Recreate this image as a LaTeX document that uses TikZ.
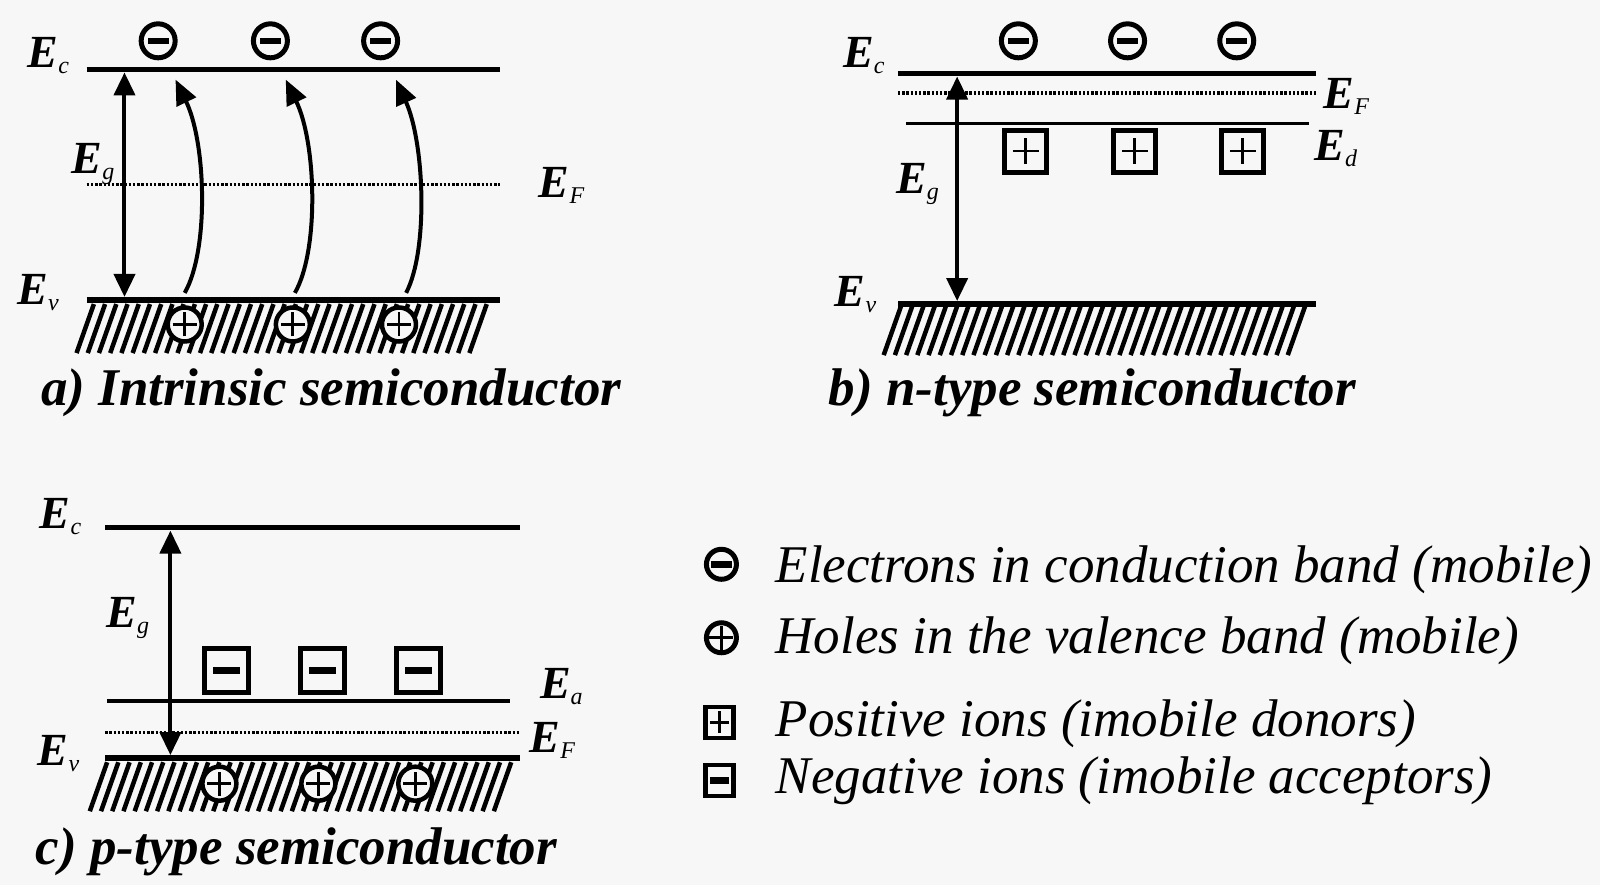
\documentclass[tikz,border=0pt]{standalone}
\usepackage{fontspec}
\setmainfont{Liberation Serif}
\usetikzlibrary{arrows.meta}
\definecolor{bg}{RGB}{247,247,247}
\newcommand{\lvlE}[1]{{\fontsize{46}{46}\selectfont\bfseries\itshape E}\raisebox{-6pt}{\fontsize{24}{24}\selectfont\itshape #1}}
\begin{document}
\begin{tikzpicture}[x=1.0204pt,y=-1.0204pt,
 band/.style={line width=5.5pt},
 thinlvl/.style={line width=3.2pt},
 fermi/.style={line width=3.4pt,dash pattern=on 2.4pt off 1.8pt},
 gaparrow/.style={line width=4pt,{Triangle[length=23pt,width=21pt]}-{Triangle[length=23pt,width=21pt]}},
 jump/.style={line width=4pt,-{Triangle[length=25pt,width=21pt]}},
 hatchline/.style={line width=4.5pt},
 lbl/.style={anchor=base west,inner sep=0pt},
 capt/.style={anchor=base west,inner sep=0pt,font=\fontsize{53}{60}\selectfont\bfseries\itshape},
 legtext/.style={anchor=base west,inner sep=0pt,font=\fontsize{53}{60}\selectfont\itshape},
 elec/.style={circle,draw,line width=5pt,minimum size=34pt,inner sep=0pt,fill=bg,
   path picture={\fill[black] ([xshift=-10.5pt,yshift=-3.3pt]path picture bounding box.center) rectangle ([xshift=10.5pt,yshift=3.3pt]path picture bounding box.center);}},
 hole/.style={circle,draw,line width=4.5pt,minimum size=34pt,inner sep=0pt,fill=bg,
   path picture={\draw[black,line width=2.8pt] ([xshift=-12pt]path picture bounding box.center) -- ([xshift=12pt]path picture bounding box.center);
                 \draw[black,line width=2.8pt] ([yshift=-12pt]path picture bounding box.center) -- ([yshift=12pt]path picture bounding box.center);}},
 donor/.style={rectangle,draw,line width=5pt,minimum size=42pt,inner sep=0pt,fill=bg,
   path picture={\draw[black,line width=2.8pt] ([xshift=-13pt]path picture bounding box.center) -- ([xshift=13pt]path picture bounding box.center);
                 \draw[black,line width=2.8pt] ([yshift=-13pt]path picture bounding box.center) -- ([yshift=13pt]path picture bounding box.center);}},
 acceptor/.style={rectangle,draw,line width=5pt,minimum size=44pt,inner sep=0pt,fill=bg,
   path picture={\fill[black] ([xshift=-13.5pt,yshift=-3.2pt]path picture bounding box.center) rectangle ([xshift=13.5pt,yshift=3.2pt]path picture bounding box.center);}},
]
\fill[bg] (0,0) rectangle (1568,867);
\useasboundingbox (0,0) rectangle (1568,867);

% ---------- panel a ----------
\draw[band] (85,68) -- (490,68);
\draw[fermi] (85,181) -- (490,181);
\foreach \x in {75,86,...,466} \draw[hatchline] (\x,346) -- (\x+17,298);
\draw[band] (85,294) -- (490,294);
\node[elec] (ae1) at (155,40) {};
\node[elec] (ae2) at (265,40) {};
\node[elec] (ae3) at (373,40) {};
\node[hole] (ah1) at (181,318) {};
\node[hole] (ah2) at (287,318) {};
\node[hole] (ah3) at (391,318) {};
\coordinate (aTop) at (122,71);
\coordinate (aBot) at (122,291);
\draw[gaparrow] (aTop) -- (aBot);
\coordinate (aj1s) at (181,287); \coordinate (aj1e) at (172,78);
\coordinate (aj2s) at (289,287); \coordinate (aj2e) at (280,78);
\coordinate (aj3s) at (398,287); \coordinate (aj3e) at (388,78);
\draw[jump] (aj1s) .. controls (205,245) and (202,140) .. (aj1e);
\draw[jump] (aj2s) .. controls (313,245) and (310,140) .. (aj2e);
\draw[jump] (aj3s) .. controls (420,245) and (416,140) .. (aj3e);
\node[lbl] (aEc) at (27,66) {\lvlE{c}};
\node[lbl] (aEg) at (70,170) {\lvlE{g}};
\node[lbl] (aEF) at (528,194) {\lvlE{F}};
\node[lbl] (aEv) at (17,298) {\lvlE{v}};
\node[capt] (acap) at (40,397) {a) Intrinsic semiconductor};

% ---------- panel b ----------
\draw[band] (880,72) -- (1290,72);
\draw[fermi] (880,91) -- (1290,91);
\draw[thinlvl] (888,121) -- (1283,121);
\foreach \x in {866,877,...,1262} \draw[hatchline] (\x,348) -- (\x+17,300);
\draw[band] (880,298) -- (1290,298);
\node[elec] (be1) at (998,40) {};
\node[elec] (be2) at (1105,40) {};
\node[elec] (be3) at (1212,40) {};
\node[donor] (bd1) at (1005,148) {};
\node[donor] (bd2) at (1112,148) {};
\node[donor] (bd3) at (1218,148) {};
\coordinate (bTop) at (938,75);
\coordinate (bBot) at (938,295);
\draw[gaparrow] (bTop) -- (bBot);
\node[lbl] (bEc) at (826,66) {\lvlE{c}};
\node[lbl] (bEF) at (1297,106) {\lvlE{F}};
\node[lbl] (bEd) at (1288,157) {\lvlE{d}};
\node[lbl] (bEg) at (878,190) {\lvlE{g}};
\node[lbl] (bEv) at (818,300) {\lvlE{v}};
\node[capt] (bcap) at (812,397) {b) n-type semiconductor};

% ---------- panel c ----------
\draw[band] (103,517) -- (510,517);
\draw[thinlvl] (105,687) -- (500,687);
\draw[fermi] (103,718) -- (510,718);
\foreach \x in {88,99,...,484} \draw[hatchline] (\x,795) -- (\x+17,747);
\draw[band] (103,743) -- (510,743);
\node[acceptor] (ca1) at (222,657) {};
\node[acceptor] (ca2) at (316,657) {};
\node[acceptor] (ca3) at (410,657) {};
\node[hole] (ch1) at (215,768) {};
\node[hole] (ch2) at (312,768) {};
\node[hole] (ch3) at (407,768) {};
\coordinate (cTop) at (167,520);
\coordinate (cBot) at (167,740);
\draw[gaparrow] (cTop) -- (cBot);
\node[lbl] (cEc) at (39,518) {\lvlE{c}};
\node[lbl] (cEg) at (104,615) {\lvlE{g}};
\node[lbl] (cEa) at (529,685) {\lvlE{a}};
\node[lbl] (cEF) at (519,737) {\lvlE{F}};
\node[lbl] (cEv) at (37,750) {\lvlE{v}};
\node[capt] (ccap) at (35,847) {c) p-type semiconductor};

% ---------- legend ----------
\node[elec,minimum size=30pt] (le) at (707,553) {};
\node[hole,minimum size=30pt,line width=5pt] (lh) at (707,625) {};
\node[donor,line width=4.5pt,minimum width=28pt,minimum height=31pt,
   path picture={\draw[black,line width=2.8pt] ([xshift=-9.5pt]path picture bounding box.center) -- ([xshift=9.5pt]path picture bounding box.center);
                 \draw[black,line width=2.8pt] ([yshift=-11pt]path picture bounding box.center) -- ([yshift=11pt]path picture bounding box.center);}] (ld) at (705,708) {};
\node[acceptor,line width=4.5pt,minimum width=28pt,minimum height=31pt,
   path picture={\fill[black] ([xshift=-9.5pt,yshift=-3.3pt]path picture bounding box.center) rectangle ([xshift=9.5pt,yshift=3.3pt]path picture bounding box.center);}] (la) at (705,765) {};
\node[legtext] (let) at (760,571) {Electrons in conduction band (mobile)};
\node[legtext] (lht) at (760,640) {Holes in the valence band (mobile)};
\node[legtext] (ldt) at (760,722) {Positive ions (imobile donors)};
\node[legtext] (lat) at (760,778) {Negative ions (imobile acceptors)};
\end{tikzpicture}
\end{document}
